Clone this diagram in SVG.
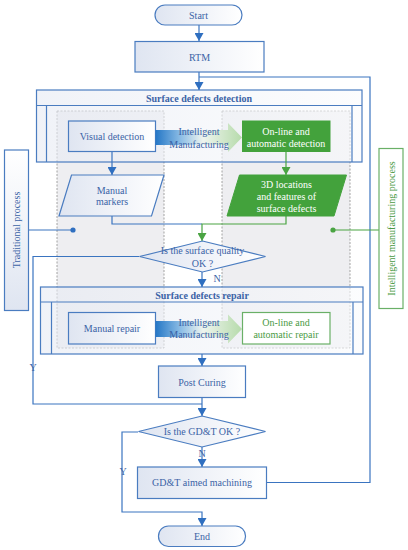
<svg xmlns="http://www.w3.org/2000/svg" width="408" height="550" viewBox="0 0 408 550" font-family="'Liberation Serif', serif">
<defs>
<linearGradient id="gBox" x1="0" y1="0" x2="1" y2="0">
<stop offset="0" stop-color="#dfe5f1"/><stop offset="1" stop-color="#ffffff"/>
</linearGradient>
<linearGradient id="gBig" x1="0" y1="0" x2="1" y2="0">
<stop offset="0" stop-color="#e6eaf3"/><stop offset="1" stop-color="#fafbfd"/>
</linearGradient>
<linearGradient id="gVert" x1="0" y1="1" x2="0" y2="0">
<stop offset="0" stop-color="#dfe5f1"/><stop offset="1" stop-color="#ffffff"/>
</linearGradient>
<linearGradient id="gArrow" x1="0" y1="0" x2="1" y2="0">
<stop offset="0" stop-color="#2577c6"/><stop offset="0.3" stop-color="#8fbfe6"/><stop offset="0.55" stop-color="#eef4ee"/><stop offset="1" stop-color="#b6dbab"/>
</linearGradient>
<marker id="ab" markerUnits="userSpaceOnUse" markerWidth="9" markerHeight="9" refX="8" refY="4.5" orient="auto"><path d="M0,0 L8,4.5 L0,9 z" fill="#2f6fc0"/></marker>
<marker id="ag" markerUnits="userSpaceOnUse" markerWidth="9" markerHeight="9" refX="8" refY="4.5" orient="auto"><path d="M0,0 L8,4.5 L0,9 z" fill="#4aa443"/></marker>
<style>
text{font-family:'Liberation Serif',serif;font-size:10px;fill:#3b63a6;text-anchor:middle;dominant-baseline:central}
.b{font-weight:bold}
.w{fill:#ffffff}
.gt{fill:#4a9a45}
.box{fill:url(#gBox);stroke:#4a7cc0;stroke-width:1.2}
.big{fill:url(#gBig);fill-opacity:0.6;stroke:#4a7cc0;stroke-width:1.2}
.ln{fill:none;stroke:#4a7cc0;stroke-width:1.2}
.con{fill:none;stroke:#3a74c0;stroke-width:1.2}
.gcon{fill:none;stroke:#4aa443;stroke-width:1.2}
.dash{fill:#eeeef1;stroke:#8e8e8e;stroke-width:0.8;stroke-dasharray:2,1.5}
.gfill{fill:#43a23c;stroke:#43a23c}
.gbox{fill:#ffffff;stroke:#6ab067;stroke-width:1.2}
</style>
</defs>

<g id="lanes">
<rect class="dash" x="57" y="111" width="107" height="237"/>
<rect class="dash" x="222" y="111" width="128" height="237"/>
</g>

<g id="surface-detection">
<rect class="big" x="36.5" y="90" width="325.5" height="72"/>
<line class="ln" x1="36.5" y1="105.5" x2="362" y2="105.5"/>
<line class="ln" x1="46.5" y1="105.5" x2="46.5" y2="162"/>
<line class="ln" x1="352" y1="105.5" x2="352" y2="162"/>
<text class="b" x="199" y="98">Surface defects detection</text>
</g>

<g id="surface-repair">
<rect class="big" x="40.5" y="287" width="322.5" height="67"/>
<line class="ln" x1="40.5" y1="302" x2="363" y2="302"/>
<line class="ln" x1="51.5" y1="302" x2="51.5" y2="354"/>
<line class="ln" x1="353" y1="302" x2="353" y2="354"/>
<text class="b" x="202" y="295">Surface defects repair</text>
</g>

<g id="connectors">
<path class="con" d="M199,25 V41" marker-end="url(#ab)"/>
<path class="con" d="M267,482.5 H370 V77 H199"/>
<path class="con" d="M199,72 V90" marker-end="url(#ab)"/>
<path class="con" d="M112,152 V175" marker-end="url(#ab)"/>
<path class="gcon" d="M286,152 V175" marker-end="url(#ag)"/>
<path class="con" d="M112,216 V224 H202"/>
<path class="gcon" d="M286,216 V224 H202 V241" marker-end="url(#ag)"/>
<path class="con" d="M202,272 V287" marker-end="url(#ab)"/>
<path class="con" d="M139,256.5 H33 V404 H202"/>
<path class="con" d="M202,354 V366" marker-end="url(#ab)"/>
<path class="con" d="M202,397 V416" marker-end="url(#ab)"/>
<path class="con" d="M202,447 V467" marker-end="url(#ab)"/>
<path class="con" d="M138,432 H122 V512 H202 V526" marker-end="url(#ab)"/>
<path class="con" d="M28,230 H73"/>
<circle cx="73" cy="230" r="2.6" fill="#2f6fc0"/>
<path class="gcon" d="M379,230 H333"/>
<circle cx="333" cy="230" r="2.6" fill="#4aa443"/>
<text x="217" y="278">N</text>
<text x="33" y="367">Y</text>
<text x="202" y="453">N</text>
<text x="123" y="471">Y</text>
</g>

<g id="start">
<rect class="box" x="155" y="5" width="87" height="20" rx="10"/>
<text x="198.5" y="15">Start</text>
</g>

<g id="rtm">
<rect class="box" x="135" y="41.5" width="129" height="30.5"/>
<text x="199.5" y="57">RTM</text>
</g>

<g id="visual-detection">
<rect class="box" x="68.5" y="121" width="87" height="30.5"/>
<text x="112" y="136">Visual detection</text>
</g>

<g id="im-arrow-1">
<path d="M155.5,130 H228 V123 L242,137.5 L228,152 V145 H155.5 z" fill="url(#gArrow)"/>
<text x="199" y="131">Intelligent</text>
<text x="199" y="144">Manufacturing</text>
</g>

<g id="online-detection">
<rect class="gfill" x="242.5" y="121" width="87.5" height="30.5"/>
<text class="w" x="286" y="131">On-line and</text>
<text class="w" x="286" y="143">automatic detection</text>
</g>

<g id="manual-markers">
<path class="box" d="M71.5,175 H164 L151.5,216 H59 z"/>
<text x="112" y="190">Manual</text>
<text x="112" y="201">markers</text>
</g>

<g id="3d-locations">
<path class="gfill" d="M239.5,175 H346.5 L334,216 H227 z"/>
<text class="w" x="286.5" y="184">3D locations</text>
<text class="w" x="286.5" y="196">and features of</text>
<text class="w" x="286.5" y="208">surface defects</text>
</g>

<g id="surface-quality">
<path class="box" d="M202.5,241 L265.5,256.5 L202.5,272 L139.5,256.5 z"/>
<text x="202.5" y="250">Is the surface quality</text>
<text x="202.5" y="263">OK ?</text>
</g>

<g id="manual-repair">
<rect class="box" x="68.5" y="312.5" width="87" height="31.5"/>
<text x="112" y="328.5">Manual repair</text>
</g>

<g id="im-arrow-2">
<path d="M155.5,321 H228 V314.5 L242,329 L228,343.5 V337 H155.5 z" fill="url(#gArrow)"/>
<text x="199" y="322.5">Intelligent</text>
<text x="199" y="334.5">Manufacturing</text>
</g>

<g id="online-repair">
<rect class="gbox" x="242.5" y="312.5" width="87.5" height="31.5"/>
<text class="gt" x="286" y="322.5">On-line and</text>
<text class="gt" x="286" y="334.5">automatic repair</text>
</g>

<g id="post-curing">
<rect class="box" x="158.5" y="366" width="87" height="31.5"/>
<text x="202" y="382">Post Curing</text>
</g>

<g id="gdt-ok">
<path class="box" d="M202,416 L265.5,431.5 L202,447 L138.5,431.5 z"/>
<text x="202" y="431.5">Is the GD&amp;T OK ?</text>
</g>

<g id="gdt-machining">
<rect class="box" x="137.5" y="467" width="129" height="31.5"/>
<text x="202" y="482.5">GD&amp;T aimed machining</text>
</g>

<g id="end">
<rect class="box" x="158.5" y="526" width="87" height="20.5" rx="10"/>
<text x="202" y="536.5">End</text>
</g>

<g id="traditional">
<rect x="4.5" y="150" width="24" height="160.5" fill="url(#gVert)" stroke="#4a7cc0" stroke-width="1.2"/>
<text transform="translate(16.5,230) rotate(-90)" x="0" y="0">Traditional process</text>
</g>

<g id="intelligent">
<rect class="gbox" x="379" y="148.5" width="24" height="160"/>
<text class="gt" transform="translate(391,228.5) rotate(-90)" x="0" y="0">Intelligent manufacturing process</text>
</g>
</svg>
